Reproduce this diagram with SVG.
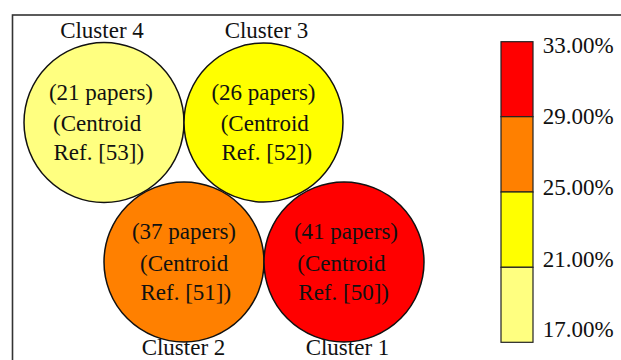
<svg xmlns="http://www.w3.org/2000/svg" width="621" height="360" viewBox="0 0 621 360">
  <style>
    text { font-family: "Liberation Serif", "Times New Roman", serif; font-size: 23px; fill: #111; }
    .node circle { stroke: #111; stroke-width: 1.5; }
    .c1 { fill: #FF0000; }
    .c2 { fill: #FF8000; }
    .c3 { fill: #FFFF00; }
    .c4 { fill: #FFFF80; }
    .mid { text-anchor: middle; }
    .scale rect { stroke: #222; stroke-width: 1.2; }
    .frame { fill: none; stroke: #333; stroke-width: 1.6; }
  </style>
  <rect width="621" height="360" fill="#FFFFFF"/>

  <!-- outer frame (continues past the right and bottom edges) -->
  <rect class="frame" x="12.5" y="15" width="700" height="400"/>

  <!-- clusters -->
  <g id="cluster4" class="node">
    <circle class="c4" cx="104" cy="122.5" r="80"/>
    <text class="mid" x="102" y="37.5">Cluster 4</text>
    <text class="mid" x="101" y="100">(21 papers)</text>
    <text x="53" y="131">(Centroid</text>
    <text x="53.5" y="159.5">Ref. [53])</text>
  </g>

  <g id="cluster3" class="node">
    <circle class="c3" cx="263.5" cy="122.5" r="79.5"/>
    <text class="mid" x="266.5" y="37.5">Cluster 3</text>
    <text class="mid" x="263.5" y="100">(26 papers)</text>
    <text x="220.7" y="131">(Centroid</text>
    <text x="221.5" y="159.5">Ref. [52])</text>
  </g>

  <g id="cluster2" class="node">
    <circle class="c2" cx="184" cy="262" r="80"/>
    <text class="mid" x="184" y="238.5">(37 papers)</text>
    <text x="140" y="271">(Centroid</text>
    <text x="140.5" y="299.5">Ref. [51])</text>
    <text class="mid" x="183.5" y="354.5">Cluster 2</text>
  </g>

  <g id="cluster1" class="node">
    <circle class="c1" cx="344" cy="262" r="80"/>
    <text class="mid" x="346" y="238.5">(41 papers)</text>
    <text x="297.3" y="271">(Centroid</text>
    <text x="298.3" y="299.5">Ref. [50])</text>
    <text class="mid" x="347.5" y="354.5">Cluster 1</text>
  </g>

  <!-- no connectors in this figure -->
  <g id="connectors"/>

  <!-- colour scale -->
  <g id="legend" class="scale">
    <rect class="c1" x="501" y="41.7" width="32" height="75"/>
    <rect class="c2" x="501" y="116.7" width="32" height="75.3"/>
    <rect class="c3" x="501" y="192" width="32" height="75.3"/>
    <rect class="c4" x="501" y="267.3" width="32" height="75"/>
    <text x="542.7" y="52.7">33.00%</text>
    <text x="542.7" y="123.5">29.00%</text>
    <text x="542.7" y="195">25.00%</text>
    <text x="542.7" y="266.8">21.00%</text>
    <text x="542.7" y="337">17.00%</text>
  </g>
</svg>
